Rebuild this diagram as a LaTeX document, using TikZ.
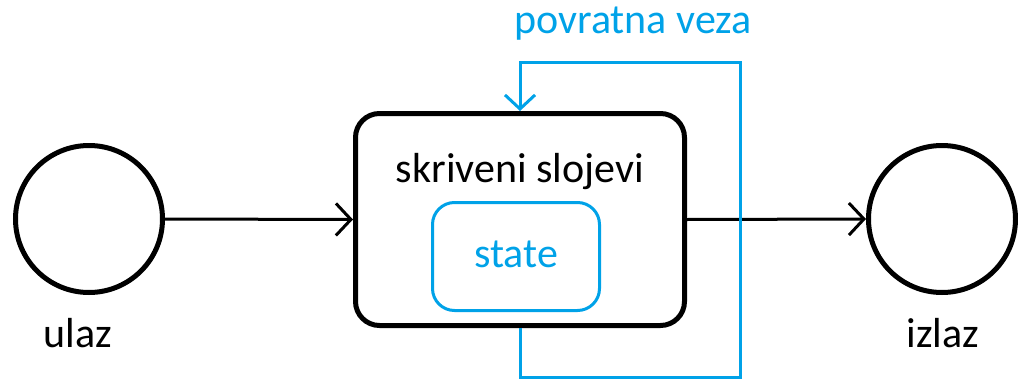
\documentclass[tikz,border=0pt]{standalone}
\usepackage{fontspec}
\setmainfont{Carlito}
\usetikzlibrary{arrows.meta}
\definecolor{fbblue}{HTML}{00A2E8}
\tikzset{
  port/.style={circle, draw=black, line width=5pt, minimum size=147pt, inner sep=0pt},
  layerbox/.style={rectangle, draw=black, line width=5pt, rounded corners=24pt,
    minimum width=329pt, minimum height=212pt, inner sep=0pt},
  statebox/.style={rectangle, draw=fbblue, line width=3pt, rounded corners=22pt,
    minimum width=167pt, minimum height=108pt, inner sep=0pt},
  lbl/.style={font=\fontsize{42}{48}\selectfont, anchor=base, inner sep=0pt},
  flow/.style={draw=black, line width=3pt, -{Straight Barb[length=15pt,width=32pt]}},
  fb/.style={draw=fbblue, line width=3pt, -{Straight Barb[length=14pt,width=30pt]}},
}
\begin{document}
\begin{tikzpicture}[x=1pt, y=-1pt]
  \useasboundingbox (0,0) rectangle (1018,380);

  % input, hidden layers and output
  \node[port] (in) at (89,219) {};
  \node[port] (out) at (942,219) {};
  \node[layerbox] (hid) at (520,219.5) {};
  \node[statebox] (st) at (516,256.5) {};

  % texts
  \node[lbl] (hidtxt) at (520,182) {skriveni slojevi};
  \node[lbl, text=fbblue] (sttxt) at (516,267) {state};
  \node[lbl] (intxt) at (78,347) {ulaz};
  \node[lbl] (outtxt) at (943,347) {izlaz};
  \node[lbl, text=fbblue] (fbtxt) at (633,33) {povratna veza};

  % feed-forward connections
  \draw[flow] (in.east) -- (hid.west);
  \draw[flow] (hid.east) -- (out.west);

  % recurrent loop back into the hidden layers
  \coordinate (c1) at (520,377);
  \coordinate (c2) at (740,377);
  \coordinate (c3) at (740,62);
  \coordinate (c4) at (520,62);
  \draw[fb] (hid.south) -- (c1) -- (c2) -- (c3) -- (c4) -- (hid.north);
\end{tikzpicture}
\end{document}
